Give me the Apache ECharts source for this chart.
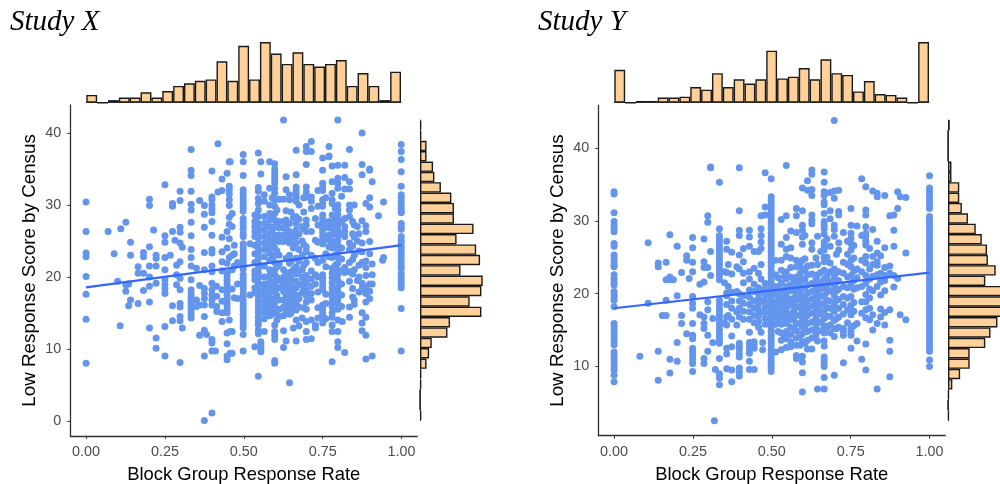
<!DOCTYPE html>
<html><head><meta charset="utf-8">
<style>html,body{margin:0;padding:0;background:#fff}#c{width:1000px;height:484px}</style>
<script src="https://cdn.jsdelivr.net/npm/echarts@6/dist/echarts.min.js"></script>
</head><body><div id="c"></div>
<script>
const studyTitles = ['Study X','Study Y'];
const xTicks = [0,0.25,0.5,0.75,1];
const yTicksX = [0,10,20,30,40];
const yTicksY = [10,20,30,40];
const xAxisTitle = 'Block Group Response Rate';
const yAxisTitle = 'Low Response Score by Census';
const fitX = [[0,18.55],[1,24.4]];
const fitY = [[0,18.0],[1,22.9]];
const rateBinsX = [6,0,2,4,4,8,4,9,13,15,17,18,32,17,44,18,47,38,30,39,30,28,30,33,13,23,13,2,24];
const rateBinsY = [38,0,2,2,6,6,7,18,15,34,18,27,22,27,60,28,30,40,27,50,34,32,13,25,10,9,6,0,70];
const scoreBinsX = [1,1,5,5,10,11,16,24,26,26,41,28,43,46,31,48,47,38,47,23,21,9,7,5,1,1,0,0,1];
const scoreBinsY = [2,0,0,0,4,4,13,13,16,23,32,39,45,46,55,43,64,70,66,57,49,43,25,25,14,5,1,0,1];
const ratesX = [0,.07,.089,.10,.108,.11,.126,.135,.141,.165,.182,.201,.214,.222,.25,.267,.274,.282,.287,.298,.305,.333,.35,.36,.375,.382,.399,.41,.414,.418,.431,.447,.454,.457,.463,.47,.48,.498,.52,
 .535,.546,.554,.565,.582,.598,.612,.626,.634,.645,.657,.666,.685,.698,.714,.727,.75,.77,.78,.798,.812,.82,.835,.85,.86,.875,.887,.899,.907,.927,.94,.943,.999,
 .59,.605,.65,.675,.69,.735,.76,.79,.81,.845,.865];
const scoresX = [
 [30.4,26.3,23.3,22.8,20.05,17.6,14.1,8],[26.3],[23.2],[19.4],[13.2],[26.7],[27.6,18.9,18],[19,16],[24.8,23,16.8],[21.4,20.5,16.3],[23.4,22.8,20.5,18.1],
 [30.8,29.9,24.2,21.5,20,18.7,16.5,12.9],[26.5],[23,22.6,21.5,19.1,11.5,10.1],[32.8,25.7,24.8,22.7,21,19.6,18.9,18.3,17.7,13.1,9],[23],[30.2,29.8,26.3,16,13.9],[25.1],[21.6,20.3,18.9],
 [31.9,30.6,26.9,26.2,24.7,22.1,19.8,18.2,16.3,15.8,14.5,13.9,8.1],[24.1,12.9],
 [37.7,34.8,34.1,31.9,30.1,29.3,27.6,25.7,23.8,22.7,21.5,19.6,18.2,17.7,17.2,16.8,16.3,15.8,15.3,14.8,14.3],[21.2,16.8,15.9],[30.6,18.8,16.1,11.9],
 [29.9,28.7,26.9,23.4,21,18.4,17.7,17,16.1,14.5,12.6,9,0.05],[12],
 [34.7,31.1,30.7,30,29.4,28.9,27.7,25.8,23.8,23.3,21.5,20.7,19.1,18.2,17.5,16.8,16.1,11.3,10.8,9.7,1.1],[9.7],[18.7,17.3,15.9,15.2],[38.5,31.8],
 [33.6,32,25.5,23.5,22.1,20.8,18.2,16.6,15,13.8],
 [34.4,26.3,24,21.9,20.5,20,19.5,19,18.5,18,17.5,17,16.5,16,15.5,15,12.2,10.7,9,8.5],
 [36,32.6,32.1,31.5,30.7,29.9,28.3,27.3,25.3,22.7,14],[36,12.4,9.4],[28.8,27,23,21,18.3,12.4,9.4],[24.4,23.2,21.5,17.1],[22,19,17],
 [37,36,34.1,32.1,31.6,31.1,30.6,30.1,29.6,29.1,28.1,27.6,27.1,26.6,26,25.6,24.6,24.1,23.6,23.1,22.6,22.1,21.6,21.1,20.3,19.8,19.3,18.8,18.3,17.8,17.3,16.8,16.3,15.8,15.3,14.8,14.3,13.8,13.3,12.9,12,9.7],
 [24.6,17.5],
 [28.6,27.7,27,26.3,25.6,24.4,23.2,22,20.8,20.2,19.6,18.5,17.8,10.3],
 [37.2,32.4,31.9,30.9,30.2,29.3,28.4,27.4,26.8,26.1,25.4,24.7,24,23.3,22.6,21.9,21.2,20.5,19.8,19.2,18.6,18,17.4,16.8,16.2,15.6,15,14.4,13.8,13.3,12.6,12.1,6.2],
 [34.3,11,10.5,10,9.6,36],
 [31.4,30.5,28.4,27.4,26.5,25.6,24.7,23.8,22.8,21.5,20,19,18.2,17.4,16.6,15.8,15,14.2,12.4],
 [36,32.3,30,28.8,27.9,27,26,25.1,24.2,23.3,22.3,21,20.2,19.4,18.6,17.8,17,16.2,15.4,14.6],
 [35.7,35,34.5,34,33.5,33,32.3,31.6,30.7,29.8,28.8,27.9,27,25.8,24.9,24,23,22,21,20.3,19.4,18.7,17.9,17,16.4,15.7,15,13.3,12.4,11.9,11.3,8.4,8],
 [30.8,27.7,26.8,25.8,24.9,23,21.8,19.5,18.5,16.8,15.5,14.5],
 [41.8,30.8,27.7,26.8,25.8,24.9,21,20,19,18,16.8,15.8,14.6,12.5,10.2],
 [33.9,32.1,29.2,27.9,27,26,25.1,22.6,20.2,19.3,18.4,17.5,16.2,15.2,11.1],
 [31.4,30.7,27.4,26.3,24.7,23,21.9,20.6,19.8,18.8,17.9,16.6,15.6,14.8,5.3],
 [28.2,26,24,21,19.4,18.3,17.2,16.2,12.9],
 [37.6,34.2,32.5,32,31.5,31,30.5,28.4,27.4,26.5,25.6,24.7,22.6,21.4,20.4,19.4,18.5,17.5,16.5,15.4,14,11.1],
 [27,25,23,21,20,19,17.8,14.3],
 [38.1,37.4,35.6,32.5,31.8,31.1,27.9,27.2,26.3,24.2,23.5,22,20.2,19.2,18.2,17.4,16.5,15.5,13.8,12.4,11.3],
 [38.8,37.4,31.1,30.5,29.5,26.3,23,20.8,19.7,18.7,17.7,16.8,14,11.4],
 [28.1,25.1,22.6,20.3,19,13.3,12.9],
 [36.5,34.8,33,32.5,32,30.7,30.2,29.8,28.6,28.1,27.6,27.1,26.6,26.1,25.6,25.1,24.6,22.3,20.3,19.8,19.3,18.7,18.2,16.1,15.6,15.1,14.6,14.1,13.6],
 [38.1,36.8,36.7,27.7,26.8,25.8,25.1,24.2,22.8],
 [35.4,33.2,31.6,30.7,30.2,28.6,27.6,26.8,25.9,25,24,22.7,21.2,20.5,19.9,19.2,18.5,17.9,17.2,16.5,15.8,15,14.4,13.3,12.4,8.2],
 [41.8,35.5,33.7,33,32.3,30,29.3,28.6,27.9,27.2,26.5,25.8,25.1,24.4,23.7,22.8,21.9,21,20.3,19.5,18.6,17.9,17.1,16.4,15.5,14,12.4,11,10.2],
 [13.8],
 [35.5,33.8,32.2,28.1,27,26.3,25.6,21.3,20.6,9.5],
 [37.7,33.2,32.2,30,29.3,28.4,24.7,23.8,22,20.7,19.4,15.8,14.4],
 [30,27.2,25.5,23,21,16.8,16.2],[27,25,19.5],
 [40,35.6,34.2,27.8,24.7,23.5,22,19.1,18.4,18,15,13.6,12.5],
 [30.2,27.1,26.3,22.2,21.3,20.2,18.6,17.7,16.5,14.4,11.9,8.6],
 [35,34.8,31,29.7,24.9,23.2,19,18,17],
 [33.2,21.8,20.3,19,9],
 [28.5],[22.3],[30.4,22.7],
 [38.4,37.4,36.3,34.6,32.6,31.4,31,30.5,30,29.5,29.1,28.9,27.4,27,26.6,25.6,25.1,24.6,24.1,23.6,23.1,22.6,22,21.5,21.2,20.5,20,19.5,19,18.5,15.6,9.7],
 [31,28.2,26.4,24.6,22.7,20.6,18.2,16.6,14.8],[29.3,27.4,25.4,23.6,21.4,19.9,18.4,17.4,15.4,14],[29,25.4,22.2,20.2,18.4,17.2,15],[30,28,26,23.8,22.2,20.8,18.9,17,15.8,13.2],
 [31,29,26.7,24.5,21.6,19.5,18.4,15.7],[32,29.8,27.2,24.8,22,20,17.9,15.7,14.3],[31,27.6,25.3,23.2,21.4,17.6,16.3,14.2],[29.5,28,26.3,24.5,23,21.6,20.2,18.2],
 [31.2,27.7,26,24,22.5,20.8,19,17.5,15.9],[27.7,26,24.3,22.4,20.4,18.4,17.2],[26,23.6,21.6,20,17.9]
];
const ratesY = [0,.082,.108,.14,.153,.165,.177,.188,.2,.214,.23,.238,.249,.272,.285,.297,.306,.313,.318,.321,.334,.35,.357,.362,.373,.389,.397,.41,.429,.444,.458,.466,.471,.479,.498,.512,.53,.546,.56,.578,.597,.613,.627,.645,.666,.685,.698,.712,.727,.751,.77,.785,.798,.82,.834,.858,.874,.887,.899,.907,.925,1,
 .52,.54,.57,.59,.605,.64,.655,.675,.705,.74,.76,.81,.845];
const scoresY = [
 [34,33.7,31.1,29.9,29.4,28.9,28.5,26.9,26.5,25.3,24.9,24.4,23.9,23.7,22.6,22.1,21.6,21.2,20.3,19.9,19.5,19.1,18.2,15.9,15.5,15,14.5,14,13.5,13,12,11.5,11,10.5,10,9.5,8.8,7.9],
 [11.4],[27,18.7],[24.2,23.7,12.1,8.1],[17],[24.3,21.9,19.1,17],[28.1,21.9,22.3,11,9.1],[21.9],[26.5,19.7,13.3,10.7],[22.9,17,15.9],[25.2,24.6,14.5],[22.1],
 [27.7,26.3,24.3,23,19.6,18.7,18,15.9,14.3,13.8,12.5,12,11.5,11,10.4,9.3],[21.3,17.1],[27.5,24.4,23.6,21.6,16.8,15.9,15.2,11.1,10.4],[30.7,29.8,23.6,18.9,17.8,14.3,12.1],[37.4,37.3,25.8,22.5],[16.6,13.3],[2.56],[9.6],
 [35.3,28.9,28,27.5,27,26.5,26,25.5,25,24.5,24,23.5,23,22.5,21.9,19.1,18.5,18,17.5,17,16.5,16,15.5,15,14.5,14,13.5,13.2,11.1,9,8.4,7.5],
 [23,21.5,16],[27.2,26.1,22.9,20.1,19.7,18.5,16.8,15.7,12.5,11.7,9.7],[24,21,17],[25.7,22.7,20.2,19,18,16.5,14.2,12.7,9.5,7.9],[23.7,20.3,17.5,15.7],
 [37.3,31.4,28.7,28,25.3,23.4,20,19,18,16.8,13.2,12.8,12.4,11.8,11.3,9.8,9.2,8.7],[26.2,24.4,22.8,21.5,19.7,18.7,17.6,16.5],
 [28.7,27.8,26.5,23,22,20.5,19.5,18.5,17.5,16.5,14.7,13.3,12.8,12.3,11.8,10.7,9.6],[25.8,23.5,21.3,20.3,19,18,17,16,13.4,13,12.5,9.6],
 [25.8,22.8,20.8,20,19.3,18.6,17.8,17,16.2,15.4],[30.7,28.9,28,27.1,26.2,24,22,20.5,19,14.7],[13.3,12.3,17.5],[36.6,31.9,30.8,21.4,20.6,19.8,19,18.2,17.4,16.6,15.8],
 [35.8,33.3,32.8,32.3,31.8,31.3,30.8,30.3,29.8,29.3,28.8,28.3,27.8,27.3,26.8,26.3,25.8,25.3,24.8,24.3,23.8,23.3,22.8,22.3,21.8,21.3,20.8,20.3,19.8,19.3,18.8,18.3,17.8,17.3,16.8,16.3,15.8,15.3,14.8,14.3,13.8,13.3,12.8,12.3,11.8,11.3,10.8,10.3,9.8,9.3],
 [24.6,22.6,21,20,18.8,17.8,16.8,15.8,12],
 [30.2,26.8,24.6,23.2,21.5,20.4,19.2,18.2,17,15.8,14.6,13.6,12.3],
 [37.6,30.7,27.7,26.1,25.1,23,22,21,19.9,19.1,17.9,16.9,15.9,14.8,13.8,12.6],
 [28.6,26.3,24.9,23.6,22.3,21.2,20.4,19.2,18.4,17.2,16.4,15.4,14.4,13.4,12.7],
 [31.7,30.7,28.4,24.6,23.7,22.3,21.1,20,19.1,18.1,17,15.9,14.9,13.9,12.9,11.5,11.1],
 [34.5,31.4,29.4,28.7,27.8,26.8,24.6,23.4,22,20.8,19.7,18.7,17.6,16.6,15.4,14.5,13.4,11.4,10.6,9.15,6.5],
 [35.5,34.2,23.8,22.6,21.2,20.1,19,18,17,15.9,14.8,13.6,12.4],
 [37,36.4,34.3,33.5,30.8,30.1,29.6,27,26.1,23.9,22.7,21.4,20.3,19.3,18.3,17.3,16.1,15,13.9,12.4],
 [27.9,24,22.6,21.3,20.3,19.2,18.1,17.1,16,14.9,13.5,6.9],
 [36.7,35.3,34,33.5,32.6,32.2,31,29.9,29.4,28.9,28.2,27.1,26.5,26,25,24.4,23.2,22,20.8,19.7,18.7,17.7,16.6,15.6,14.6,13.5,12.8,11.3,10.9,10.4,10,8.5,6.9],
 [33.9,31.4,30.3,26.5,24.2,23,21.6,20.4,19,18,16.9,15.7,14.6],
 [43.8,34.1,33.1,29.4,28.8,27.9,23.4,22.3,21,19.8,18.7,17.6,16.3,15.2,14.1,8.8],
 [34.2,31.3,30.8,27,26,23,21.8,20.6,19.2,18,16.8,15.4],
 [28.4,24.3,22.8,21,19.6,18.5,17.2,15.2,14.8,14.3,10.5],
 [31.7,29.4,28.3,27.6,26.9,26,24.6,23.7,22.5,21.4,19.6,18.4,17.8,17.1,15.2,14.8,14.3,12.5],
 [29.3,23.4,22.2,20.8,15.9,13.5],[35.8,28,24.6,23,21,18.9,17.3,11],
 [34.7,31.5,30.8,29.2,28.3,27.8,27.2,26.7,25.1,24.2,22.5,21.4,19.9,18.9,17.8,16.7,9.5,13.1],
 [34.1,28.8,25.1,24,22.4,20.4,17.1,15],[33.8,33.3,27.2,25.6,24.4,23.9,22.6,21,15.9,6.9],
 [33.5,26.3,23.6,22.5,21.8,20.4,17.4,15.7],[30.7,23.8,22.8,17.8,13.6,12.1,8.6],[30.8,28.7,26.5,22.5,20.9],
 [34,31.7,22.1],[33.3,17.1],[33.2,25.6,16.4],
 [36.2,34.5,34,33.5,33,32.5,32,31.7,30.6,30.1,29.6,29.1,28.6,28.1,27.6,27.1,26.6,26.1,25.6,25.1,24.6,24.1,23.6,23.1,22.6,22.1,21.6,21.1,20.6,20.1,19.6,19.1,18.6,18.1,17.6,17.1,16.6,16.1,15.6,15.1,14.6,14.1,13.6,13.1,12.6,12.1,10.9,10],
 [22.2,20.8,19.6,18.6,17.4,16.4,14.8],[22.4,20.6,19.6,18.6,17.6,16.6,14.2],[21.8,20.6,19.4,18.6,17.6,16.6,15.2],[24.2,22.8,21.6,20.4,19.2,18.2,17.1,15.9,14.2,12.9],
 [28,24.8,23.2,21.9,20.8,19.4,18.4,17.4,16.4,15.1,13.2],[24.9,22.1,20.8,19.8,18.8,17.6,16.6,15.4,14.3],[25.8,22.9,21.6,20.6,19.6,18.5,17.3,16.1,14.9],[27.5,25,22.4,21.2,20.2,19.1,18.1,16.9,15.4],
 [25.4,22.9,21.6,20.4,19.2,18,16.6,15.2],[27.2,25.4,24,22.3,20.8,19.4,17.8,16],[26.6,24.9,23.1,21.8,20.6,18.8,17.6,15.6],[26.2,23.4,22,20.6,19.4,18,16.4],[25.2,22.8,21.6,19.8,17.9,16.8]
];
function pts(xs,ys){const o=[];xs.forEach((x,i)=>ys[i].forEach(y=>o.push([x,y])));return o;}
const bins = rateBinsX.map((_,i)=>String(i));
const dark='#333', pointCol='#6495ED', lineCol='#3366FF', barFill='#FFD199', tickCol='#4D4D4D';
function scatterX(gi,ticks){return {gridIndex:gi,type:'value',min:-0.05,max:1.05,
  axisLine:{show:true,onZero:false,lineStyle:{color:dark,width:1.3}},axisTick:{show:true,length:3,customValues:ticks,lineStyle:{color:dark}},
  axisLabel:{customValues:ticks,color:tickCol,fontFamily:'Liberation Sans',fontSize:14.4,margin:9,formatter:v=>v.toFixed(2)},
  splitLine:{show:false},name:xAxisTitle,nameLocation:'middle',nameGap:30,nameTextStyle:{color:'#000',fontFamily:'Liberation Sans',fontSize:18.4}};}
function scatterY(gi,min,max,ticks){return {gridIndex:gi,type:'value',min:min,max:max,
  axisLine:{show:true,onZero:false,lineStyle:{color:dark,width:1.3}},axisTick:{show:true,length:3,customValues:ticks,lineStyle:{color:dark}},
  axisLabel:{customValues:ticks,color:tickCol,fontFamily:'Liberation Sans',fontSize:14.4,margin:9},
  splitLine:{show:false},name:yAxisTitle,nameLocation:'middle',nameGap:31,nameRotate:90,nameTextStyle:{color:'#000',fontFamily:'Liberation Sans',fontSize:18.8}};}
const hide={show:false};
const grids=[
 {left:70.3,top:104.9,width:347,height:331},
 {left:86.3,top:42,width:314.7,height:60.7},
 {left:420,top:120,width:62.7,height:300.7},
 {left:598.3,top:105.4,width:347,height:330.3},
 {left:614.3,top:42,width:314.7,height:60.7},
 {left:948,top:120,width:60.7,height:300.7}
].map(g=>Object.assign(g,{outerBoundsMode:'none',containLabel:false}));
const margLine={show:true,onZero:false,lineStyle:{color:'#555',width:1}};
const xAxes=[
 scatterX(0,xTicks),
 {gridIndex:1,type:'category',data:bins,axisLine:margLine,axisTick:hide,axisLabel:hide},
 {gridIndex:2,type:'value',min:0,max:48,show:false,splitLine:hide},
 scatterX(3,xTicks),
 {gridIndex:4,type:'category',data:bins,axisLine:margLine,axisTick:hide,axisLabel:hide},
 {gridIndex:5,type:'value',min:0,max:70,show:false,splitLine:hide}
];
const yAxes=[
 scatterY(0,-2.09,43.89,yTicksX),
 {gridIndex:1,type:'value',min:0,max:47,show:false,splitLine:hide},
 {gridIndex:2,type:'category',inverse:true,data:bins,axisLine:margLine,axisTick:hide,axisLabel:hide},
 scatterY(3,0.49,45.86,yTicksY),
 {gridIndex:4,type:'value',min:0,max:70,show:false,splitLine:hide},
 {gridIndex:5,type:'category',inverse:true,data:bins,axisLine:margLine,axisTick:hide,axisLabel:hide}
];
const barStyle={color:barFill,borderColor:'#1a1a1a',borderWidth:1.4};
function bar(i,d){return {type:'bar',xAxisIndex:i,yAxisIndex:i,data:d,barWidth:'100%',itemStyle:barStyle,silent:true,animation:false};}
function dots(i,d){return {type:'scatter',xAxisIndex:i,yAxisIndex:i,data:d,symbolSize:7,itemStyle:{color:pointCol,opacity:1},silent:true,animation:false};}
function fit(i,d){return {type:'line',xAxisIndex:i,yAxisIndex:i,data:d,showSymbol:false,lineStyle:{color:lineCol,width:2.2},z:5,silent:true,animation:false};}
const chart=echarts.init(document.getElementById('c'),null,{renderer:'canvas'});
const titleStyle={fontFamily:'Liberation Serif',fontStyle:'italic',fontWeight:'normal',fontSize:29,color:'#000'};
chart.setOption({animation:false,backgroundColor:'#fff',
 title:[
  {text:studyTitles[0],left:10,top:8,padding:0,textStyle:titleStyle},
  {text:studyTitles[1],left:538,top:8,padding:0,textStyle:titleStyle}
 ],
 grid:grids,xAxis:xAxes,yAxis:yAxes,
 series:[dots(0,pts(ratesX,scoresX)),fit(0,fitX),bar(1,rateBinsX),bar(2,scoreBinsX),
         dots(3,pts(ratesY,scoresY)),fit(3,fitY),bar(4,rateBinsY),bar(5,scoreBinsY)]
});
</script></body></html>
